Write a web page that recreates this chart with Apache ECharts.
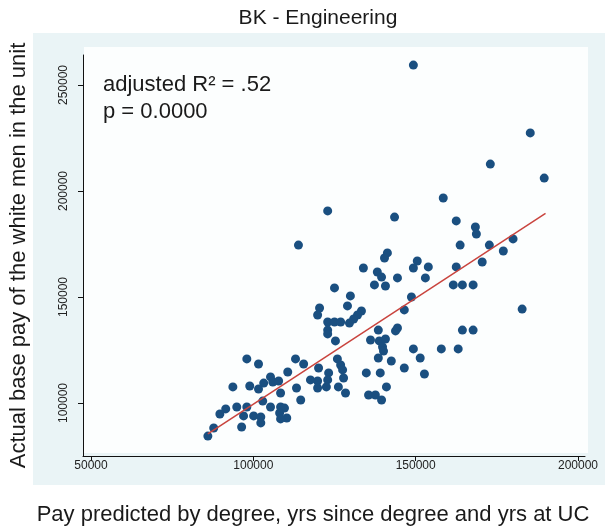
<!DOCTYPE html>
<html>
<head>
<meta charset="utf-8">
<script src="https://cdn.jsdelivr.net/npm/echarts@6/dist/echarts.min.js"></script>
<style>
html,body{margin:0;padding:0;background:#fff;}
#chart{width:605px;height:529px;}
</style>
</head>
<body>
<div id="chart"></div>
<script>
const chartTitle = 'BK - Engineering';
const xAxisTitle = 'Pay predicted by degree, yrs since degree and yrs at UC';
const yAxisTitle = 'Actual base pay of the white men in the unit';
const xTicks = [50000, 100000, 150000, 200000];
const yTicks = [100000, 150000, 200000, 250000];
const fitLine = [[86000, 85400], [190000, 189400]];

const predictedPay = [
149300,185300,189600,173000,158500,143500,122900,113900,162500,168400,
168700,180000,163700,172700,177000,141300,140400,170500,133900,150500,
149300,153900,162500,138200,139500,144400,153000,137300,140700,161600,
164400,167700,125000,129900,148700,129000,146500,120400,119800,133300,
132100,130900,129600,182800,122900,125000,126900,122900,122900,144400,
143800,138500,164400,167700,125300,136100,138800,140700,139800,140100,
149300,157900,163100,151400,138500,142500,125900,126900,127500,127800,
126200,128400,115500,120100,123200,122900,122500,117600,119800,119800,
134800,139100,146500,152700,141000,135500,137600,139500,114600,98000,
101600,113000,110600,105300,106000,107800,113300,93700,98900,103200,
101600,108400,94900,98000,102900,105300,108400,109600,108100,110300,
108400,91500,89700,97000,100100,102300,102300,87800,86000,96400
];
const actualPay = [
259400,227400,206100,212700,196700,187700,190600,174500,185900,183000,
179700,177400,174500,174500,171700,170800,168400,166500,163700,167000,
163700,164200,164200,161800,159400,159000,159000,155700,155200,155700,
155700,155700,154300,150500,150000,145800,143900,144800,141500,143400,
141500,139600,137700,144300,138200,138200,138200,134400,132600,135400,
134000,134400,134400,134400,129300,129700,129300,130200,126400,124500,
125500,125500,125500,121200,121200,119800,120800,117900,115600,111800,
107600,104700,118400,116500,114200,110900,107600,110900,110400,107100,
114200,114200,116500,113700,107600,103800,103800,101400,101400,120800,
118400,120800,114600,112300,109900,110400,107100,107600,108000,109400,
106600,104700,98100,98100,100900,98100,98100,97600,95300,92900,
92500,97200,94800,93900,93900,93400,90600,88200,84400,88700
];

const points = predictedPay.map((x, i) => [x, actualPay[i]]);

const font = '"Liberation Sans", Arial, sans-serif';
const chart = echarts.init(document.getElementById('chart'), null, {renderer: 'canvas'});
chart.setOption({
  backgroundColor: '#ffffff',
  animation: false,
  graphic: [
    {type: 'rect', z: -10, silent: true, shape: {x: 33, y: 33, width: 572, height: 452}, style: {fill: '#eaf4f6'}},
    {type: 'rect', z: -9, silent: true, shape: {x: 84, y: 47, width: 504, height: 406}, style: {fill: '#fcfefe'}},
    {type: 'text', z: 100, x: 318, y: 18, style: {text: chartTitle, font: '21px ' + font, fill: '#1a1a1a', align: 'center', textAlign: 'center', verticalAlign: 'middle', textVerticalAlign: 'middle'}},
    {type: 'text', z: 100, x: 103, y: 85, style: {text: 'adjusted R² = .52', font: '22px ' + font, fill: '#1a1a1a', textVerticalAlign: 'middle', verticalAlign: 'middle'}},
    {type: 'text', z: 100, x: 103, y: 112, style: {text: 'p = 0.0000', font: '22px ' + font, fill: '#1a1a1a', textVerticalAlign: 'middle', verticalAlign: 'middle'}},
    {type: 'text', z: 100, x: 313, y: 515, style: {text: xAxisTitle, font: '22px ' + font, fill: '#1a1a1a', align: 'center', textAlign: 'center', verticalAlign: 'middle', textVerticalAlign: 'middle'}}
  ],
  grid: {left: 82, right: 20, top: 55, bottom: 73, containLabel: false},
  xAxis: {
    type: 'value', min: 47540, max: 202160,
    axisLine: {show: true, onZero: false, lineStyle: {color: '#111', width: 1}},
    axisTick: {show: true, length: 5, customValues: xTicks, lineStyle: {color: '#111'}},
    axisLabel: {customValues: xTicks, formatter: v => String(v), fontFamily: font, fontSize: 12, color: '#222', margin: 4},
    splitLine: {show: false}
  },
  yAxis: {
    type: 'value', min: 75000, max: 264150,
    name: yAxisTitle, nameLocation: 'middle', nameGap: 53, nameRotate: 90,
    nameTextStyle: {fontFamily: font, fontSize: 22, color: '#1a1a1a'},
    axisLine: {show: true, onZero: false, lineStyle: {color: '#111', width: 1}},
    axisTick: {show: true, length: 5, customValues: yTicks, lineStyle: {color: '#111'}},
    axisLabel: {customValues: yTicks, formatter: v => String(v), fontFamily: font, fontSize: 12, color: '#222', rotate: 90, margin: 13},
    splitLine: {show: false}
  },
  series: [
    {
      type: 'scatter', data: points, symbol: 'circle', symbolSize: 9,
      itemStyle: {color: '#1a4f80', opacity: 1}, z: 3
    },
    {
      type: 'line', data: fitLine, symbol: 'none', z: 4,
      lineStyle: {color: '#c9443e', width: 1.5}
    }
  ]
});
</script>
</body>
</html>
